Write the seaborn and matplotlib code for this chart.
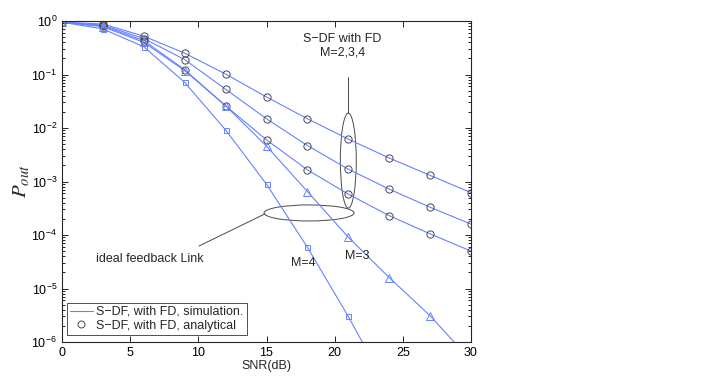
import numpy as np
import pandas as pd
import seaborn as sns
import matplotlib.pyplot as plt
from matplotlib.patches import Ellipse
from matplotlib.lines import Line2D
import matplotlib.ticker as mticker

# SNR grid (dB)
snr = [0, 3, 6, 9, 12, 15, 18, 21, 24, 27, 30]

# S-DF with FD, M=2,3,4 (simulation lines + analytical circles)
fd_m2 = [0.95, 0.88, 0.52, 0.25, 0.102, 0.038, 0.0149, 0.0062, 0.00275, 0.0013, 6.2e-4]
fd_m3 = [0.95, 0.84, 0.47, 0.19, 0.053, 0.0149, 0.0047, 0.0017, 7.2e-4, 3.3e-4, 1.6e-4]
fd_m4 = [0.95, 0.81, 0.43, 0.123, 0.026, 0.006, 0.00165, 5.8e-4, 2.3e-4, 1.05e-4, 5e-5]

# ideal feedback link, M=3 (triangles) and M=4 (squares)
ideal_m3 = [0.95, 0.78, 0.40, 0.118, 0.026, 0.0046, 6.5e-4, 9.1e-5, 1.6e-5, 3.1e-6, 4.5e-7]
ideal_m4 = [0.95, 0.71, 0.33, 0.071, 0.0092, 8.9e-4, 5.9e-5, 3.0e-6, 1.2e-7, 5e-9, 2e-10]

blue = '#6682ff'
gray = '#4a4a4a'

sns.set_style('ticks')
plt.rcParams['font.family'] = ['Liberation Sans', 'DejaVu Sans']
plt.rcParams['mathtext.fontset'] = 'custom'
plt.rcParams['mathtext.rm'] = 'Liberation Sans'
plt.rcParams['mathtext.it'] = 'Liberation Sans:italic'
plt.rcParams['mathtext.default'] = 'regular'

rows = []
for name, vals in [('fd2', fd_m2), ('fd3', fd_m3), ('fd4', fd_m4),
                   ('id3', ideal_m3), ('id4', ideal_m4)]:
    for s, p in zip(snr, vals):
        rows.append({'snr': s, 'p': p, 'curve': name})
df = pd.DataFrame(rows)

fig = plt.figure(figsize=(7.2, 3.9), dpi=100)
ax = fig.add_axes([62 / 720, 48 / 390, 409 / 720, 321 / 390])

# simulation lines
sns.lineplot(data=df, x='snr', y='p', hue='curve', palette=[blue] * 5,
             estimator=None, legend=False, linewidth=0.8, ax=ax)

# markers
fd = df[df.curve.str.startswith('fd')]
for c in ['fd2', 'fd3', 'fd4']:
    sub = fd[fd.curve == c]
    sns.lineplot(x=sub.snr, y=sub.p, marker='o', markersize=5.2, linestyle='',
                 markerfacecolor='none', markeredgecolor=gray, markeredgewidth=0.7,
                 color=gray, estimator=None, ax=ax)
sub = df[df.curve == 'id3']
sns.lineplot(x=sub.snr, y=sub.p, marker='^', markersize=5.5, linestyle='',
             markerfacecolor='none', markeredgecolor=blue, markeredgewidth=0.7,
             color=blue, estimator=None, ax=ax)
sub = df[df.curve == 'id4']
sns.lineplot(x=sub.snr, y=sub.p, marker='s', markersize=3.6, linestyle='',
             markerfacecolor='none', markeredgecolor=blue, markeredgewidth=0.7,
             color=blue, estimator=None, ax=ax)

ax.set_yscale('log')
ax.set_xlim(0, 30)
ax.set_ylim(1e-6, 1)
ax.set_xticks([0, 5, 10, 15, 20, 25, 30])
ax.yaxis.set_major_locator(mticker.LogLocator(base=10, numticks=10))
ax.yaxis.set_minor_locator(mticker.LogLocator(base=10, subs=np.arange(2, 10), numticks=20))
ax.yaxis.set_minor_formatter(mticker.NullFormatter())
ax.tick_params(which='both', direction='in', top=True, right=True, labelsize=9,
               width=0.6, colors='black')
ax.tick_params(which='major', length=4)
ax.tick_params(which='minor', length=2)
for sp in ax.spines.values():
    sp.set_linewidth(0.8)
    sp.set_visible(True)

ax.set_xlabel('SNR(dB)', fontsize=9, labelpad=1)
ax.set_ylabel(r'$\mathit{P}_{\mathit{out}}$', fontsize=15, math_fontfamily='stix')
ax.yaxis.set_label_coords(-0.073, 0.5)

# annotations
ax.text(0.685, 0.922, 'S\u2212DF with FD\nM=2,3,4', transform=ax.transAxes,
        ha='center', va='center', fontsize=9, linespacing=1.2)
ax.add_patch(Ellipse((0.700, 0.565), 0.039, 0.296, transform=ax.transAxes,
                     fill=False, edgecolor=gray, linewidth=0.7))
ax.plot([0.700, 0.700], [0.826, 0.713], transform=ax.transAxes, color=gray, lw=0.7)
ax.add_patch(Ellipse((0.604, 0.402), 0.220, 0.050, transform=ax.transAxes,
                     fill=False, edgecolor=gray, linewidth=0.7))
ax.plot([0.496, 0.335], [0.399, 0.299], transform=ax.transAxes, color=gray, lw=0.7)
ax.text(0.214, 0.259, 'ideal feedback Link', transform=ax.transAxes,
        ha='center', va='center', fontsize=9)
ax.text(0.589, 0.246, 'M=4', transform=ax.transAxes, ha='center', va='center', fontsize=9)
ax.text(0.721, 0.268, 'M=3', transform=ax.transAxes, ha='center', va='center', fontsize=9)

handles = [Line2D([], [], color=blue, lw=0.8),
           Line2D([], [], linestyle='', marker='o', markersize=5,
                  markerfacecolor='none', markeredgecolor=gray, markeredgewidth=0.7)]
leg = ax.legend(handles, ['S\u2212DF, with FD, simulation.', 'S\u2212DF, with FD, analytical'],
                loc='lower left', bbox_to_anchor=(0.012, 0.022), fontsize=9,
                fancybox=False, framealpha=1, edgecolor='#333333', borderpad=0.25,
                handlelength=1.8, handletextpad=0.3, labelspacing=0.15, borderaxespad=0)
leg.get_frame().set_linewidth(0.6)

fig.savefig('out.png', dpi=100)
